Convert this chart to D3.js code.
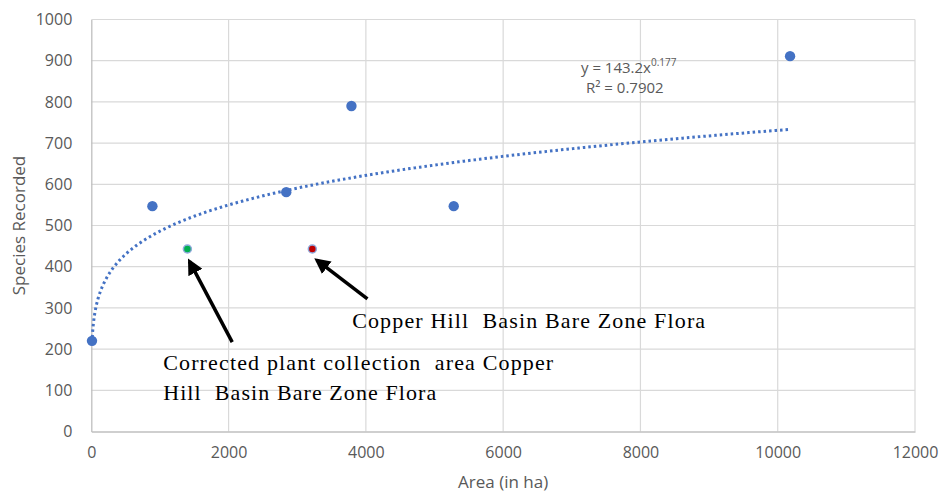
<!DOCTYPE html>
<html>
<head>
<meta charset="utf-8">
<script src="https://cdn.jsdelivr.net/npm/d3@7"></script>
<style>
  body { margin: 0; background: #fff; }
  svg { display: block; }
  .tick text { font-family: 'Open Sans', sans-serif; font-size: 16px; fill: #595959; }
  .note { font-family: 'Liberation Serif', serif; font-size: 22px; fill: #000; white-space: pre; }
</style>
</head>
<body>
<div id="container"></div>
<script>
// Data
const areas = [10, 890, 2840, 3790, 5280, 10180];
const species = [220, 547, 581, 790, 547, 911];
const highlighted = [
  { area: 1400, species: 443, color: '#00b050' },
  { area: 3220, species: 443, color: '#c00000' }
];
const xTicks = [0, 2000, 4000, 6000, 8000, 10000, 12000];
const yTicks = [0, 100, 200, 300, 400, 500, 600, 700, 800, 900, 1000];
const fitA = 143.2;
const fitB = 0.177;

const width = 940, height = 493;
const margin = { top: 19.5, right: 25, bottom: 61.5, left: 91.3 };

const svg = d3.select('#container').append('svg')
  .attr('width', width)
  .attr('height', height);

// Scales
const xScale = d3.scaleLinear().domain([0, 12000]).range([margin.left, width - margin.right]);
const yScale = d3.scaleLinear().domain([0, 1000]).range([height - margin.bottom, margin.top]);

// Grid
svg.append('g').selectAll('line.h')
  .data(yTicks.slice(1))
  .join('line')
  .attr('x1', xScale(0)).attr('x2', xScale(12000))
  .attr('y1', d => yScale(d)).attr('y2', d => yScale(d))
  .attr('stroke', '#d9d9d9').attr('stroke-width', 1.2);
svg.append('g').selectAll('line.v')
  .data(xTicks.slice(1))
  .join('line')
  .attr('x1', d => xScale(d)).attr('x2', d => xScale(d))
  .attr('y1', yScale(0)).attr('y2', yScale(1000))
  .attr('stroke', '#d9d9d9').attr('stroke-width', 1.2);

// Axes
const xAxis = svg.append('g')
  .attr('transform', `translate(0,${yScale(0)})`)
  .call(d3.axisBottom(xScale).tickValues(xTicks).tickSize(0).tickPadding(15).tickFormat(d3.format('d')));
xAxis.select('.domain').attr('stroke', '#bfbfbf').attr('stroke-width', 1.3);

const yAxis = svg.append('g')
  .attr('transform', `translate(${xScale(0)},0)`)
  .call(d3.axisLeft(yScale).tickValues(yTicks).tickSize(0).tickPadding(19).tickFormat(d3.format('d')));
yAxis.select('.domain').attr('stroke', '#bfbfbf').attr('stroke-width', 1.3);

// Axis titles
svg.append('text')
  .attr('x', (xScale(0) + xScale(12000)) / 2)
  .attr('y', 488)
  .attr('text-anchor', 'middle')
  .style('font-family', "'Open Sans', sans-serif").style('font-size', '17px').style('fill', '#595959')
  .text('Area (in ha)');
svg.append('text')
  .attr('transform', `translate(25,${(yScale(0) + yScale(1000)) / 2}) rotate(-90)`)
  .attr('text-anchor', 'middle')
  .style('font-family', "'Open Sans', sans-serif").style('font-size', '17px').style('fill', '#595959')
  .text('Species Recorded');

// Power trendline
const fitXs = d3.range(0, 201).map(i => areas[0] + (d3.max(areas) - areas[0]) * Math.pow(i / 200, 2));
svg.append('path')
  .datum(fitXs)
  .attr('fill', 'none')
  .attr('stroke', '#4472c4')
  .attr('stroke-width', 3)
  .attr('stroke-dasharray', '2.5 3')
  .attr('d', d3.line().x(d => xScale(d)).y(d => yScale(fitA * Math.pow(d, fitB))));

// Points
svg.append('g').selectAll('circle')
  .data(areas.map((a, i) => ({ area: a, species: species[i] })))
  .join('circle')
  .attr('cx', d => xScale(d.area))
  .attr('cy', d => yScale(d.species))
  .attr('r', 5.2)
  .attr('fill', '#4472c4');

svg.append('g').selectAll('circle')
  .data(highlighted)
  .join('circle')
  .attr('cx', d => xScale(d.area))
  .attr('cy', d => yScale(d.species))
  .attr('r', 4)
  .attr('fill', d => d.color)
  .attr('stroke', '#8fa9dc')
  .attr('stroke-width', 1.5);

// Equation
const eq = svg.append('text')
  .attr('x', xScale(7134))
  .attr('y', 73)
  .style('font-family', "'Open Sans', sans-serif").style('font-size', '15px').style('fill', '#595959');
eq.append('tspan').text('y = 143.2x');
eq.append('tspan').attr('dy', -7).style('font-size', '10px').text('0.177');
svg.append('text')
  .attr('x', xScale(7207))
  .attr('y', 93)
  .style('font-family', "'Open Sans', sans-serif").style('font-size', '15px').style('fill', '#595959')
  .text('R² = 0.7902');

// Annotations
svg.append('defs').append('marker')
  .attr('id', 'arrow')
  .attr('viewBox', '0 0 10 10')
  .attr('refX', 8).attr('refY', 5)
  .attr('markerWidth', 4.5).attr('markerHeight', 4.5)
  .attr('orient', 'auto')
  .append('path').attr('d', 'M0,0 L10,5 L0,10 Z').attr('fill', '#000');

const arrows = [
  { from: [2053, 217], to: [1430, 413] },
  { from: [4023, 322], to: [3285, 416] }
];
svg.append('g').selectAll('line')
  .data(arrows)
  .join('line')
  .attr('x1', d => xScale(d.from[0])).attr('y1', d => yScale(d.from[1]))
  .attr('x2', d => xScale(d.to[0])).attr('y2', d => yScale(d.to[1]))
  .attr('stroke', '#000').attr('stroke-width', 3.5)
  .attr('marker-end', 'url(#arrow)');

const notes = [
  { area: 3800, species: 251, len: 353, text: 'Copper Hill  Basin Bare Zone Flora' },
  { area: 1047, species: 149, len: 390, text: 'Corrected plant collection  area Copper' },
  { area: 1047, species: 76, len: 273, text: 'Hill  Basin Bare Zone Flora' }
];
svg.append('g').selectAll('text')
  .data(notes)
  .join('text')
  .attr('class', 'note')
  .attr('x', d => xScale(d.area))
  .attr('y', d => yScale(d.species))
  .attr('textLength', d => d.len)
  .attr('lengthAdjust', 'spacing')
  .text(d => d.text);
</script>
</body>
</html>
